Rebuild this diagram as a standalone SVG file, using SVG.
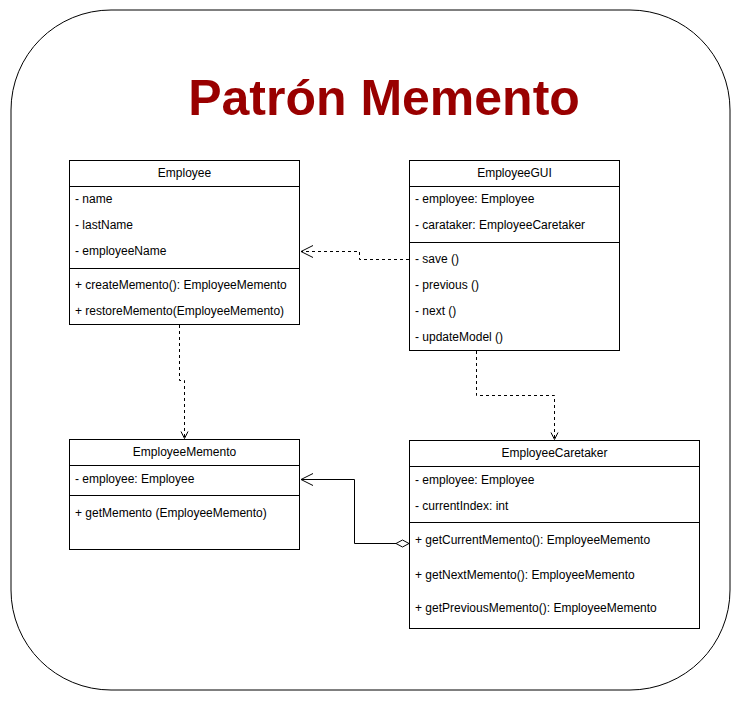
<svg xmlns="http://www.w3.org/2000/svg" width="742" height="701" viewBox="0 0 742 701">
<style>
  .box{fill:#fff;stroke:#000;stroke-width:1}
  .ln{stroke:#000;stroke-width:1;fill:none}
  .t{font-family:"Liberation Sans",Arial,Helvetica,sans-serif;font-size:12px;fill:#000}
  .h{text-anchor:middle}
  .dash{stroke:#000;stroke-width:1;fill:none;stroke-dasharray:3,3}
  .solid{stroke:#000;stroke-width:1;fill:none}
</style>
<defs>
  <marker id="open" markerWidth="14" markerHeight="14" refX="13" refY="7" orient="auto" markerUnits="userSpaceOnUse">
    <path d="M1,1 L13,7 L1,13" fill="none" stroke="#000" stroke-width="1"/>
  </marker>
  <marker id="openSmall" markerWidth="10" markerHeight="10" refX="9" refY="5" orient="auto" markerUnits="userSpaceOnUse">
    <path d="M2,1.5 L9,5 L2,8.5" fill="none" stroke="#000" stroke-width="1"/>
  </marker>
</defs>
<rect x="0" y="0" width="742" height="701" fill="#fff"/>
<rect x="11" y="10" width="719" height="680" rx="100" ry="100" fill="#fff" stroke="#000" stroke-width="1"/>
<text x="384" y="115" text-anchor="middle" font-family="'Liberation Sans',Arial,Helvetica,sans-serif" font-size="50" font-weight="bold" fill="#990000">Patrón Memento</text>

<g id="connectors">
  <path class="dash" d="M409,259.5 H359.5 V251.5 H301" marker-end="url(#open)"/>
  <path class="dash" d="M179.5,325 V380.5 H184.5 V438.5" marker-end="url(#openSmall)"/>
  <path class="dash" d="M476.5,351 V395.5 H554.5 V439.5" marker-end="url(#openSmall)"/>
  <path class="solid" d="M396,543.5 H354.5 V479.5 H301" marker-end="url(#open)"/>
  <path d="M409,543.5 L402.5,540 L396,543.5 L402.5,547 Z" fill="#fff" stroke="#000" stroke-width="1"/>
</g>

<g id="employee">
  <rect class="box" x="69.5" y="160.5" width="230" height="164"/>
  <line class="ln" x1="69.5" y1="186.5" x2="299.5" y2="186.5"/>
  <line class="ln" x1="69.5" y1="268.5" x2="299.5" y2="268.5"/>
  <text class="t h" x="184.5" y="177">Employee</text>
  <text class="t" x="75" y="203">- name</text>
  <text class="t" x="75" y="229">- lastName</text>
  <text class="t" x="75" y="255">- employeeName</text>
  <text class="t" x="75" y="289">+ createMemento(): EmployeeMemento</text>
  <text class="t" x="75" y="315">+ restoreMemento(EmployeeMemento)</text>
</g>

<g id="employeeGUI">
  <rect class="box" x="409.5" y="160.5" width="210" height="190"/>
  <line class="ln" x1="409.5" y1="186.5" x2="619.5" y2="186.5"/>
  <line class="ln" x1="409.5" y1="242.5" x2="619.5" y2="242.5"/>
  <text class="t h" x="514.5" y="177">EmployeeGUI</text>
  <text class="t" x="415" y="203">- employee: Employee</text>
  <text class="t" x="415" y="229">- carataker: EmployeeCaretaker</text>
  <text class="t" x="415" y="263">- save ()</text>
  <text class="t" x="415" y="289">- previous ()</text>
  <text class="t" x="415" y="315">- next ()</text>
  <text class="t" x="415" y="341">- updateModel ()</text>
</g>

<g id="employeeMemento">
  <rect class="box" x="69.5" y="439.5" width="230" height="110"/>
  <line class="ln" x1="69.5" y1="465.5" x2="299.5" y2="465.5"/>
  <line class="ln" x1="69.5" y1="495.5" x2="299.5" y2="495.5"/>
  <text class="t h" x="184.5" y="456">EmployeeMemento</text>
  <text class="t" x="75" y="483">- employee: Employee</text>
  <text class="t" x="75" y="517">+ getMemento (EmployeeMemento)</text>
</g>

<g id="employeeCaretaker">
  <rect class="box" x="409.5" y="440.5" width="290" height="188"/>
  <line class="ln" x1="409.5" y1="466.5" x2="699.5" y2="466.5"/>
  <line class="ln" x1="409.5" y1="522.5" x2="699.5" y2="522.5"/>
  <text class="t h" x="554.5" y="457">EmployeeCaretaker</text>
  <text class="t" x="415" y="484">- employee: Employee</text>
  <text class="t" x="415" y="510">- currentIndex: int</text>
  <text class="t" x="415" y="544">+ getCurrentMemento(): EmployeeMemento</text>
  <text class="t" x="415" y="579">+ getNextMemento(): EmployeeMemento</text>
  <text class="t" x="415" y="612">+ getPreviousMemento(): EmployeeMemento</text>
</g>
</svg>
